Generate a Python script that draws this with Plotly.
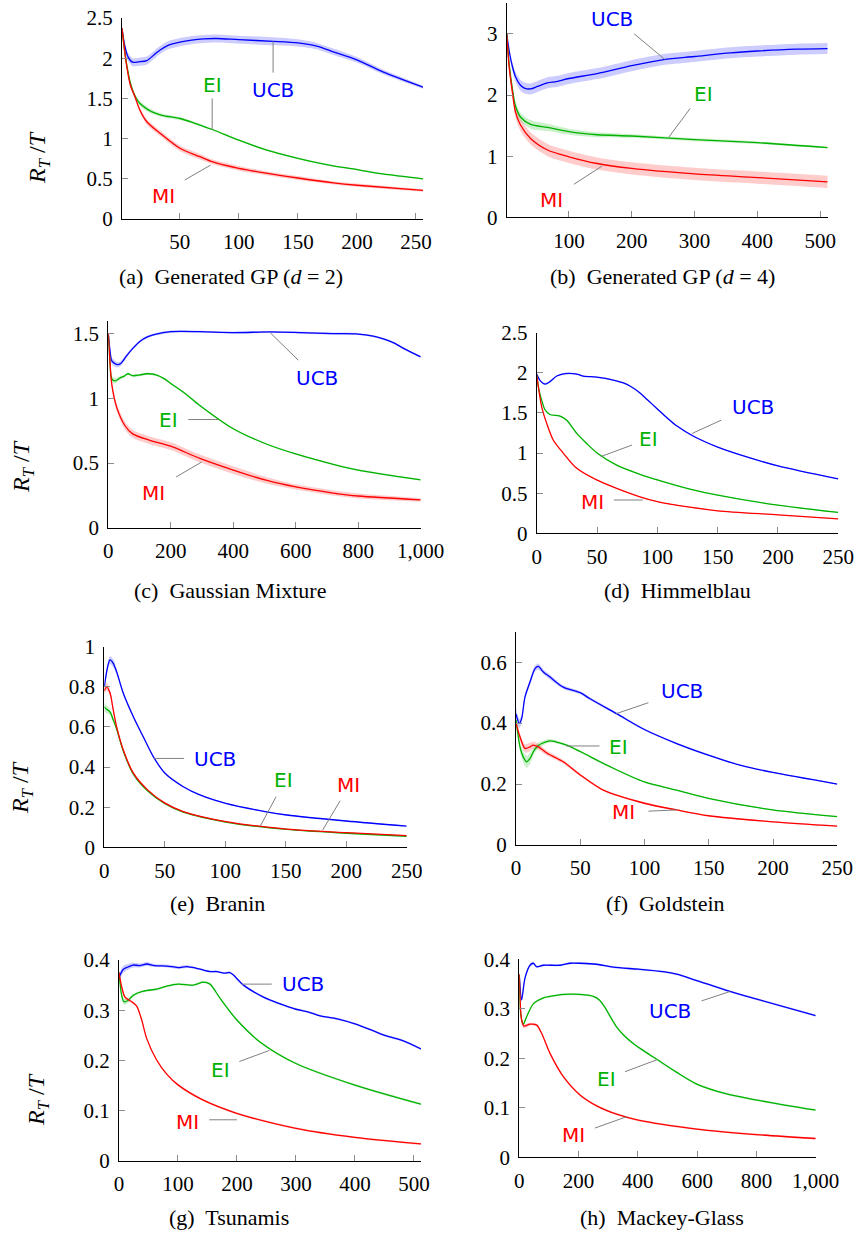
import plotly.graph_objects as go

W, H = 860, 1234
BLUE, GREEN, RED = "#0000ff", "#00b200", "#ff0000"
BAND = {"UCB": "rgba(0,0,255,0.2)", "EI": "rgba(0,178,0,0.2)", "MI": "rgba(255,0,0,0.2)"}
COL = {"UCB": BLUE, "EI": GREEN, "MI": RED}

# ---------------- (a) Generated GP (d=2) ----------------
a_ucb_x = [1, 3, 6, 10, 15, 22, 28, 33, 40, 50, 60, 70, 81, 100, 129, 150, 166, 180, 200, 222, 256]
a_ucb_y = [2.37, 2.18, 2.02, 1.95, 1.955, 1.97, 2.04, 2.10, 2.16, 2.20, 2.225, 2.24, 2.245, 2.23, 2.21, 2.19, 2.15, 2.08, 1.98, 1.83, 1.64]
a_ucb_b = [0.03, 0.04, 0.05, 0.05, 0.05, 0.05, 0.05, 0.05, 0.05, 0.05, 0.05, 0.05, 0.05, 0.05, 0.05, 0.045, 0.04, 0.04, 0.035, 0.03, 0.02]
a_ei_x = [1, 3, 5, 8, 12, 16, 22, 27, 35, 50, 61, 78, 100, 123, 150, 180, 200, 222, 256]
a_ei_y = [2.37, 2.12, 1.92, 1.70, 1.53, 1.44, 1.37, 1.33, 1.29, 1.25, 1.20, 1.11, 0.98, 0.86, 0.755, 0.66, 0.615, 0.56, 0.50]
a_ei_b = [0.01, 0.02, 0.02, 0.03, 0.03, 0.03, 0.03, 0.025, 0.02, 0.02, 0.015, 0.01, 0.01, 0.01, 0.01, 0.01, 0.01, 0.01, 0.01]
a_mi_x = [1, 3, 5, 8, 12, 16, 22, 33, 50, 67, 78, 100, 123, 150, 180, 200, 256]
a_mi_y = [2.37, 2.12, 1.90, 1.67, 1.52, 1.36, 1.21, 1.07, 0.88, 0.775, 0.71, 0.63, 0.57, 0.51, 0.45, 0.42, 0.355]
a_mi_b = [0.01, 0.02, 0.02, 0.03, 0.03, 0.03, 0.035, 0.035, 0.035, 0.035, 0.03, 0.03, 0.025, 0.025, 0.02, 0.02, 0.015]

# ---------------- (b) Generated GP (d=4) ----------------
b_ucb_x = [1, 5, 10, 15, 23, 30, 39, 50, 66, 80, 100, 145, 200, 251, 300, 357, 400, 462, 512]
b_ucb_y = [3.0, 2.72, 2.47, 2.30, 2.16, 2.11, 2.10, 2.14, 2.20, 2.22, 2.27, 2.35, 2.48, 2.58, 2.63, 2.69, 2.72, 2.75, 2.76]
b_ucb_b = [0.02, 0.05, 0.07, 0.08, 0.09, 0.09, 0.09, 0.09, 0.09, 0.09, 0.09, 0.09, 0.09, 0.09, 0.09, 0.09, 0.09, 0.09, 0.09]
b_ei_x = [1, 5, 10, 15, 23, 39, 66, 100, 145, 200, 300, 400, 512]
b_ei_y = [3.0, 2.5, 2.1, 1.82, 1.64, 1.52, 1.47, 1.40, 1.35, 1.33, 1.27, 1.22, 1.14]
b_ei_b = [0.02, 0.05, 0.07, 0.07, 0.07, 0.07, 0.06, 0.05, 0.04, 0.03, 0.025, 0.02, 0.015]
b_mi_x = [1, 5, 10, 15, 23, 39, 66, 100, 145, 200, 300, 400, 512]
b_mi_y = [3.0, 2.45, 2.05, 1.72, 1.51, 1.29, 1.10, 0.99, 0.88, 0.80, 0.71, 0.65, 0.58]
b_mi_b = [0.02, 0.06, 0.08, 0.09, 0.1, 0.1, 0.1, 0.1, 0.1, 0.1, 0.1, 0.1, 0.1]

# ---------------- (c) Gaussian Mixture ----------------
c_ucb_x = [0, 5, 11, 20, 30, 40, 59, 80, 101, 125, 150, 200, 293, 400, 518, 613, 720, 800, 848, 880, 912, 950, 1000]
c_ucb_y = [1.5, 1.38, 1.29, 1.27, 1.26, 1.27, 1.33, 1.39, 1.44, 1.475, 1.495, 1.515, 1.515, 1.508, 1.513, 1.508, 1.50, 1.497, 1.48, 1.46, 1.43, 1.38, 1.32]
c_ucb_b = [0.01, 0.02, 0.025, 0.025, 0.02, 0.02, 0.015, 0.01, 0.01, 0.01, 0.01, 0.01, 0.008, 0.008, 0.008, 0.008, 0.008, 0.008, 0.008, 0.008, 0.008, 0.008, 0.008]
c_ei_x = [0, 5, 11, 22, 37, 50, 63, 78, 100, 123, 155, 180, 200, 250, 293, 400, 508, 600, 720, 800, 1000]
c_ei_y = [1.5, 1.3, 1.15, 1.135, 1.157, 1.17, 1.19, 1.175, 1.18, 1.19, 1.18, 1.15, 1.115, 1.03, 0.945, 0.765, 0.645, 0.57, 0.49, 0.445, 0.37]
c_ei_b = [0.01, 0.02, 0.025, 0.02, 0.015, 0.01, 0.01, 0.01, 0.01, 0.01, 0.008, 0.008, 0.008, 0.008, 0.008, 0.006, 0.006, 0.006, 0.006, 0.006, 0.006]
c_mi_x = [0, 5, 11, 27, 53, 78, 133, 200, 293, 400, 508, 600, 720, 800, 1000]
c_mi_y = [1.5, 1.3, 1.11, 0.93, 0.79, 0.725, 0.675, 0.63, 0.535, 0.445, 0.365, 0.315, 0.268, 0.245, 0.215]
c_mi_b = [0.01, 0.02, 0.025, 0.03, 0.03, 0.03, 0.03, 0.03, 0.03, 0.03, 0.025, 0.02, 0.02, 0.02, 0.015]

# ---------------- (d) Himmelblau ----------------
d_ucb_x = [0, 3, 6.9, 11, 16.6, 23.5, 33.2, 38.6, 49.7, 63.5, 71.8, 78, 85.6, 92, 100, 108, 116, 130, 150, 176.8, 200, 250]
d_ucb_y = [1.985, 1.90, 1.86, 1.89, 1.96, 1.99, 1.985, 1.96, 1.945, 1.91, 1.875, 1.83, 1.75, 1.66, 1.55, 1.44, 1.34, 1.21, 1.075, 0.94, 0.84, 0.677]
d_ucb_b = [0.01, 0.012, 0.015, 0.012, 0.01, 0.01, 0.01, 0.01, 0.008, 0.008, 0.008, 0.008, 0.008, 0.008, 0.008, 0.008, 0.008, 0.008, 0.006, 0.006, 0.006, 0.006]
d_ei_x = [0, 2, 4.1, 6.9, 11, 19.3, 24.9, 33.2, 41.4, 49.7, 66.3, 85.6, 100, 127, 150, 200, 250]
d_ei_y = [1.97, 1.78, 1.66, 1.54, 1.48, 1.46, 1.41, 1.245, 1.12, 1.005, 0.85, 0.735, 0.665, 0.55, 0.475, 0.35, 0.26]
d_ei_b = [0.01, 0.012, 0.012, 0.012, 0.01, 0.01, 0.01, 0.01, 0.008, 0.008, 0.008, 0.006, 0.006, 0.006, 0.005, 0.005, 0.005]
d_mi_x = [0, 4.1, 8.3, 13.8, 22, 33.2, 49.7, 66.3, 85.6, 100, 127, 150, 200, 250]
d_mi_y = [1.97, 1.58, 1.37, 1.16, 1.0, 0.81, 0.665, 0.56, 0.455, 0.395, 0.325, 0.28, 0.23, 0.18]
d_mi_b = [0.01, 0.01, 0.01, 0.01, 0.008, 0.008, 0.006, 0.006, 0.005, 0.005, 0.005, 0.005, 0.004, 0.004]

# ---------------- (e) Branin ----------------
e_ucb_x = [0, 2.5, 4.7, 7.4, 10.2, 15.7, 24, 32.2, 40.5, 50.2, 65.3, 79, 100.4, 134, 150.8, 200, 250]
e_ucb_y = [0.80, 0.892, 0.934, 0.917, 0.875, 0.768, 0.651, 0.551, 0.452, 0.369, 0.302, 0.261, 0.219, 0.177, 0.161, 0.131, 0.106]
e_ucb_b = [0.01, 0.02, 0.02, 0.02, 0.015, 0.01, 0.008, 0.006, 0.005, 0.004, 0.004, 0.003, 0.003, 0.003, 0.003, 0.002, 0.002]
e_ei_x = [0, 1.5, 4.7, 7.4, 10.2, 15.7, 24, 36, 50.2, 65.3, 100.4, 150.8, 200, 250]
e_ei_y = [0.70, 0.69, 0.675, 0.635, 0.59, 0.48, 0.365, 0.28, 0.217, 0.175, 0.126, 0.089, 0.07, 0.055]
e_ei_b = [0.02, 0.02, 0.015, 0.012, 0.01, 0.008, 0.006, 0.005, 0.004, 0.003, 0.003, 0.002, 0.002, 0.002]
e_mi_x = [0, 2, 4.7, 7.4, 10.2, 15.7, 24, 36, 50.2, 65.3, 100.4, 150.8, 200, 250]
e_mi_y = [0.78, 0.80, 0.77, 0.685, 0.60, 0.485, 0.37, 0.285, 0.22, 0.178, 0.128, 0.091, 0.073, 0.058]
e_mi_b = [0.02, 0.02, 0.015, 0.012, 0.01, 0.008, 0.006, 0.005, 0.004, 0.003, 0.003, 0.002, 0.002, 0.002]

# ---------------- (f) Goldstein ----------------
f_ucb_x = [0, 2.6, 4.4, 7, 10.9, 14.8, 17.4, 21.3, 26.5, 36.8, 50.3, 57.6, 78.3, 99.9, 125, 149.7, 174.3, 199.7, 250]
f_ucb_y = [0.43, 0.399, 0.415, 0.486, 0.535, 0.579, 0.586, 0.568, 0.551, 0.518, 0.499, 0.48, 0.431, 0.379, 0.333, 0.295, 0.262, 0.238, 0.20]
f_ucb_b = [0.02, 0.015, 0.012, 0.01, 0.01, 0.01, 0.01, 0.008, 0.008, 0.006, 0.005, 0.005, 0.004, 0.003, 0.003, 0.003, 0.002, 0.002, 0.002]
f_ei_x = [0, 3.1, 5.5, 8.3, 10.9, 14, 17, 20, 26.5, 31.6, 39.4, 50.3, 73.1, 99.9, 125, 149.7, 199.7, 250]
f_ei_y = [0.41, 0.322, 0.29, 0.273, 0.284, 0.31, 0.325, 0.333, 0.342, 0.338, 0.328, 0.306, 0.257, 0.207, 0.18, 0.153, 0.115, 0.093]
f_ei_b = [0.01, 0.015, 0.018, 0.02, 0.018, 0.012, 0.01, 0.008, 0.006, 0.005, 0.004, 0.004, 0.003, 0.003, 0.002, 0.002, 0.002, 0.002]
f_mi_x = [0, 3.1, 7, 10.9, 13.5, 17.4, 23.9, 36.8, 50.3, 67.9, 99.9, 125, 149.7, 199.7, 250]
f_mi_y = [0.40, 0.355, 0.317, 0.322, 0.328, 0.322, 0.302, 0.273, 0.229, 0.18, 0.137, 0.115, 0.096, 0.076, 0.062]
f_mi_b = [0.01, 0.012, 0.014, 0.014, 0.012, 0.01, 0.008, 0.006, 0.004, 0.003, 0.003, 0.002, 0.002, 0.002, 0.002]

# ---------------- (g) Tsunamis ----------------
g_ucb_x = [0, 7, 15, 24, 35, 47, 60, 81, 100, 115, 130, 143, 155, 166, 178, 188, 194, 211, 245, 270, 300, 320, 341, 370, 400, 425, 448, 480, 512]
g_ucb_y = [0.365, 0.381, 0.386, 0.390, 0.389, 0.392, 0.389, 0.388, 0.385, 0.387, 0.384, 0.380, 0.377, 0.377, 0.374, 0.375, 0.370, 0.350, 0.326, 0.314, 0.302, 0.297, 0.289, 0.283, 0.273, 0.262, 0.251, 0.240, 0.223]
g_ucb_b = [0.008, 0.007, 0.006, 0.005, 0.004, 0.004, 0.003, 0.003, 0.003, 0.003, 0.002, 0.002, 0.002, 0.002, 0.002, 0.002, 0.002, 0.002, 0.002, 0.002, 0.002, 0.002, 0.002, 0.002, 0.002, 0.002, 0.002, 0.002, 0.002]
g_ei_x = [0, 4.5, 8.5, 15.8, 24.3, 41.2, 63.8, 80.9, 100.6, 126, 143, 154.3, 171.2, 199.5, 239, 300, 400, 512]
g_ei_y = [0.375, 0.330, 0.317, 0.320, 0.330, 0.338, 0.342, 0.348, 0.352, 0.350, 0.356, 0.352, 0.324, 0.281, 0.237, 0.194, 0.151, 0.113]
g_ei_b = [0.004, 0.006, 0.006, 0.005, 0.003, 0.002, 0.002, 0.002, 0.002, 0.002, 0.002, 0.002, 0.002, 0.002, 0.002, 0.002, 0.002, 0.002]
g_mi_x = [0, 4.5, 10.2, 21.5, 30, 38.4, 46.9, 63.8, 80.9, 100.6, 143, 199.5, 300, 400, 512]
g_mi_y = [0.375, 0.347, 0.326, 0.317, 0.308, 0.281, 0.244, 0.201, 0.173, 0.151, 0.121, 0.095, 0.065, 0.047, 0.034]
g_mi_b = [0.003, 0.003, 0.003, 0.003, 0.002, 0.002, 0.002, 0.002, 0.002, 0.002, 0.002, 0.002, 0.002, 0.002, 0.002]

# ---------------- (h) Mackey-Glass ----------------
h_ucb_x = [0, 7.9, 19.1, 36.1, 47.4, 58.6, 81, 137.3, 171, 204.8, 261, 317.2, 401.5, 485.8, 531, 598.5, 710.9, 798.6, 1000]
h_ucb_y = [0.368, 0.318, 0.362, 0.388, 0.392, 0.385, 0.388, 0.388, 0.392, 0.392, 0.39, 0.384, 0.38, 0.375, 0.37, 0.357, 0.335, 0.32, 0.286]
h_ucb_b = [0.004, 0.004, 0.004, 0.003, 0.003, 0.002, 0.002, 0.002, 0.002, 0.002, 0.002, 0.002, 0.002, 0.002, 0.002, 0.002, 0.002, 0.002, 0.002]
h_ei_x = [0, 4.5, 13.5, 24.7, 47.4, 81, 103.6, 148.6, 204.8, 250, 270, 290, 310, 330, 355, 380, 410, 463.5, 530, 598.5, 700, 798.6, 900, 1000]
h_ei_y = [0.37, 0.291, 0.269, 0.284, 0.31, 0.322, 0.325, 0.329, 0.329, 0.325, 0.318, 0.302, 0.281, 0.262, 0.245, 0.232, 0.219, 0.198, 0.172, 0.148, 0.128, 0.116, 0.105, 0.0955]
h_ei_b = [0.003, 0.003, 0.003, 0.003, 0.002, 0.002, 0.002, 0.002, 0.002, 0.002, 0.002, 0.002, 0.002, 0.002, 0.002, 0.002, 0.002, 0.002, 0.002, 0.002, 0.002, 0.002, 0.002, 0.002]
h_mi_x = [0, 7.9, 15.7, 36.1, 58.6, 75.6, 103.6, 148.6, 204.8, 261, 328.6, 401.5, 598.5, 798.6, 1000]
h_mi_y = [0.37, 0.277, 0.265, 0.269, 0.267, 0.25, 0.21, 0.163, 0.126, 0.104, 0.087, 0.075, 0.057, 0.046, 0.038]
h_mi_b = [0.004, 0.004, 0.004, 0.003, 0.003, 0.002, 0.002, 0.002, 0.002, 0.002, 0.002, 0.002, 0.002, 0.002, 0.002]

# ---------------- axes: ticks, ranges, captions ----------------
captions = ["(a)  Generated GP (<i>d</i> = 2)", "(b)  Generated GP (<i>d</i> = 4)", "(c)  Gaussian Mixture",
            "(d)  Himmelblau", "(e)  Branin", "(f)  Goldstein", "(g)  Tsunamis", "(h)  Mackey-Glass"]
x_ranges = [[1, 256], [1, 512], [0, 1000], [0, 250], [0, 250], [0, 250], [0, 512], [0, 1000]]
y_ranges = [[0, 2.5], [0, 3.5], [0, 1.6], [0, 2.5], [0, 1], [0, 0.7], [0, 0.4], [0, 0.4]]
x_ticks = [[50, 100, 150, 200, 250], [100, 200, 300, 400, 500], [0, 200, 400, 600, 800, 1000],
           [0, 50, 100, 150, 200, 250], [0, 50, 100, 150, 200, 250], [0, 50, 100, 150, 200, 250],
           [0, 100, 200, 300, 400, 500], [0, 200, 400, 600, 800, 1000]]
x_ticktext = [["50", "100", "150", "200", "250"], ["100", "200", "300", "400", "500"],
              ["0", "200", "400", "600", "800", "1,000"], ["0", "50", "100", "150", "200", "250"],
              ["0", "50", "100", "150", "200", "250"], ["0", "50", "100", "150", "200", "250"],
              ["0", "100", "200", "300", "400", "500"], ["0", "200", "400", "600", "800", "1,000"]]
y_ticks = [[0, 0.5, 1, 1.5, 2, 2.5], [0, 1, 2, 3], [0, 0.5, 1, 1.5], [0, 0.5, 1, 1.5, 2, 2.5],
           [0, 0.2, 0.4, 0.6, 0.8, 1], [0, 0.2, 0.4, 0.6], [0, 0.1, 0.2, 0.3, 0.4], [0, 0.1, 0.2, 0.3, 0.4]]
y_ticktext = [["0", "0.5", "1", "1.5", "2", "2.5"], ["0", "1", "2", "3"], ["0", "0.5", "1", "1.5"],
              ["0", "0.5", "1", "1.5", "2", "2.5"], ["0", "0.2", "0.4", "0.6", "0.8", "1"],
              ["0", "0.2", "0.4", "0.6"], ["0", "0.1", "0.2", "0.3", "0.4"], ["0", "0.1", "0.2", "0.3", "0.4"]]

# label positions (text centre) and leader lines (from -> to), in data units of each panel
labels = [
    [("UCB", 129, 1.60, 129, 1.82, 129, 2.21), ("EI", 77.4, 1.67, 77.4, 1.50, 77.4, 1.11), ("MI", 35.8, 0.286, 54.2, 0.485, 76, 0.67)],
    [("UCB", 169, 3.25, 204, 3.0, 253, 2.58), ("EI", 314, 2.02, 293, 1.78, 259, 1.31), ("MI", 72, 0.29, 108, 0.54, 153, 0.84)],
    [("UCB", 667, 1.157, 608, 1.295, 518, 1.508), ("EI", 192, 0.836, 256, 0.836, 352, 0.836), ("MI", 144, 0.265, 217, 0.392, 299, 0.508)],
    [("UCB", 179, 1.57, 153, 1.41, 129, 1.246), ("EI", 93, 1.18, 79, 1.10, 53, 0.955), ("MI", 46.4, 0.394, 64, 0.415, 88, 0.415)],
    [("UCB", 91.5, 0.44, 66, 0.443, 41, 0.443), ("EI", 148, 0.335, 142, 0.252, 129, 0.106), ("MI", 202, 0.31, 195, 0.232, 180.5, 0.086)],
    [("UCB", 129, 0.505, 103, 0.467, 78, 0.431), ("EI", 80, 0.32, 65, 0.325, 39, 0.325), ("MI", 84, 0.109, 103, 0.111, 125, 0.115)],
    [("UCB", 312, 0.352, 259, 0.352, 208, 0.352), ("EI", 172, 0.182, 204, 0.198, 255, 0.22), ("MI", 116, 0.078, 153, 0.082, 200, 0.082)],
    [("UCB", 508, 0.296, 615, 0.316, 711, 0.335), ("EI", 295, 0.158, 357, 0.173, 464, 0.197), ("MI", 182, 0.045, 255, 0.059, 362, 0.082)],
]

series = [
    [("UCB", a_ucb_x, a_ucb_y, a_ucb_b), ("EI", a_ei_x, a_ei_y, a_ei_b), ("MI", a_mi_x, a_mi_y, a_mi_b)],
    [("UCB", b_ucb_x, b_ucb_y, b_ucb_b), ("EI", b_ei_x, b_ei_y, b_ei_b), ("MI", b_mi_x, b_mi_y, b_mi_b)],
    [("UCB", c_ucb_x, c_ucb_y, c_ucb_b), ("EI", c_ei_x, c_ei_y, c_ei_b), ("MI", c_mi_x, c_mi_y, c_mi_b)],
    [("UCB", d_ucb_x, d_ucb_y, d_ucb_b), ("EI", d_ei_x, d_ei_y, d_ei_b), ("MI", d_mi_x, d_mi_y, d_mi_b)],
    [("UCB", e_ucb_x, e_ucb_y, e_ucb_b), ("EI", e_ei_x, e_ei_y, e_ei_b), ("MI", e_mi_x, e_mi_y, e_mi_b)],
    [("UCB", f_ucb_x, f_ucb_y, f_ucb_b), ("EI", f_ei_x, f_ei_y, f_ei_b), ("MI", f_mi_x, f_mi_y, f_mi_b)],
    [("UCB", g_ucb_x, g_ucb_y, g_ucb_b), ("EI", g_ei_x, g_ei_y, g_ei_b), ("MI", g_mi_x, g_mi_y, g_mi_b)],
    [("UCB", h_ucb_x, h_ucb_y, h_ucb_b), ("EI", h_ei_x, h_ei_y, h_ei_b), ("MI", h_mi_x, h_mi_y, h_mi_b)],
]

# plot-area boxes in pixels: left, right, top, bottom
boxes = [(122, 423, 18, 219), (506.7, 827.7, 3.3, 217.3), (108.3, 420.7, 320.7, 527.7), (536.7, 838.3, 332.7, 533.3),
         (104.3, 406.7, 646.7, 847.3), (516, 837.3, 631.7, 845), (119, 421, 960, 1161), (519.3, 815.7, 959.3, 1157.3)]
caption_pos = [(231, 276), (662, 276), (230, 590), (677, 590), (217, 903), (665, 903), (229, 1217), (662, 1217)]
ylabel_pos = [(39, 158), (23, 467), (22, 788), (38, 1100)]

SERIF = "Liberation Serif"
SANS = "DejaVu Sans"

fig = go.Figure()
layout = dict(width=W, height=H, autosize=False,
              margin=dict(l=0, r=0, t=0, b=0, pad=0, autoexpand=False),
              paper_bgcolor="white", plot_bgcolor="white", showlegend=False)
annotations = []
shapes = []

for i in range(8):
    xa = "x" if i == 0 else f"x{i+1}"
    ya = "y" if i == 0 else f"y{i+1}"
    L, R, T, B = boxes[i]
    common = dict(showline=True, linecolor="black", linewidth=1, ticks="inside", ticklen=6,
                  tickcolor="#8c8c8c", tickwidth=1, showgrid=False, zeroline=False, automargin=False,
                  tickfont=dict(family=SERIF, size=21, color="black"), ticklabelstandoff=4)
    layout["xaxis" if i == 0 else f"xaxis{i+1}"] = dict(
        common, domain=[L / W, R / W], anchor=ya, range=x_ranges[i],
        tickmode="array", tickvals=x_ticks[i], ticktext=x_ticktext[i])
    layout["yaxis" if i == 0 else f"yaxis{i+1}"] = dict(
        common, domain=[1 - B / H, 1 - T / H], anchor=xa, range=y_ranges[i],
        tickmode="array", tickvals=y_ticks[i], ticktext=y_ticktext[i])

    # bands
    for name, xs, ys, bs in series[i]:
        lo = [y - b for y, b in zip(ys, bs)]
        hi = [y + b for y, b in zip(ys, bs)]
        fig.add_trace(go.Scatter(x=xs, y=lo, mode="lines", line=dict(width=0, shape="spline", smoothing=0.8),
                                 xaxis=xa, yaxis=ya, hoverinfo="skip"))
        fig.add_trace(go.Scatter(x=xs, y=hi, mode="lines", line=dict(width=0, shape="spline", smoothing=0.8),
                                 fill="tonexty", fillcolor=BAND[name], xaxis=xa, yaxis=ya, hoverinfo="skip"))
    # mean lines
    for name, xs, ys, bs in series[i]:
        fig.add_trace(go.Scatter(x=xs, y=ys, mode="lines",
                                 line=dict(color=COL[name], width=1.3, shape="spline", smoothing=0.8),
                                 xaxis=xa, yaxis=ya))
    # labels + leader lines
    for name, tx, ty, x0, y0, x1, y1 in labels[i]:
        shapes.append(dict(type="line", xref=xa, yref=ya, x0=x0, y0=y0, x1=x1, y1=y1,
                           line=dict(color="#808080", width=1)))
        annotations.append(dict(xref=xa, yref=ya, x=tx, y=ty, text=name, showarrow=False,
                                font=dict(family=SANS, size=20, color=COL[name]),
                                xanchor="center", yanchor="middle"))
    # caption
    cx, cy = caption_pos[i]
    annotations.append(dict(xref="paper", yref="paper", x=cx / W, y=1 - cy / H, text=captions[i],
                            showarrow=False, font=dict(family=SERIF, size=22, color="black"),
                            xanchor="center", yanchor="middle"))

for lx, ly in ylabel_pos:
    annotations.append(dict(xref="paper", yref="paper", x=lx / W, y=1 - ly / H,
                            text="<i>R<sub>T</sub></i> /<i>T</i>", textangle=-90, showarrow=False,
                            font=dict(family=SERIF, size=24, color="black"),
                            xanchor="center", yanchor="middle"))

layout["annotations"] = annotations
layout["shapes"] = shapes
fig.update_layout(**layout)
fig.write_html("out.html", config={"displayModeBar": False, "responsive": False},
               post_script="document.body.style.margin='0';document.body.style.overflow='hidden';")
